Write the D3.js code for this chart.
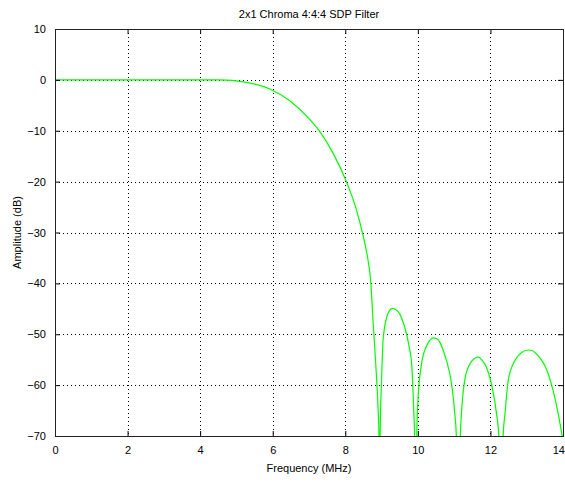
<!DOCTYPE html>
<html>
<head>
<meta charset="utf-8">
<script src="https://cdn.jsdelivr.net/npm/d3@7"></script>
<style>
  body { margin: 0; background: #fff; }
  text { font-family: "Liberation Sans", Arial, sans-serif; fill: #000; }
</style>
</head>
<body>
<div id="chart"></div>
<script>
// Frequency response (MHz, dB); values below -70 are nulls
const freqs = [0, 1, 2, 3, 4, 4.5, 4.73, 5.0, 5.28, 5.92, 6.47, 7.0, 7.25, 7.67, 8.03, 8.31, 8.47, 8.63, 8.70, 8.77, 8.84, 8.91, 8.93, 8.945,
  8.96, 9.0, 9.04, 9.14, 9.22, 9.30, 9.40, 9.50, 9.60, 9.69, 9.76, 9.83, 9.89, 9.91, 9.935,
  9.97, 10.01, 10.10, 10.24, 10.33, 10.42, 10.52, 10.61, 10.70, 10.79, 10.93, 11.02, 11.06, 11.11,
  11.17, 11.20, 11.29, 11.43, 11.55, 11.66, 11.78, 11.89, 12.03, 12.17, 12.23, 12.29,
  12.35, 12.40, 12.49, 12.67, 12.86, 13.04, 13.15, 13.27, 13.40, 13.50, 13.68, 13.87, 14.0];
const amps = [0, 0, 0, 0, 0, 0, -0.05, -0.2, -0.5, -1.8, -4.1, -7.6, -9.7, -14.5, -20, -25.6, -30, -35.6, -39.5, -48, -55.9, -65.7, -70, -100,
  -70, -59, -51.3, -46.7, -45.3, -44.9, -45.2, -46.0, -47.8, -50, -52.5, -55.9, -65.7, -70, -100,
  -70, -62, -55.9, -52.3, -51.2, -50.7, -50.9, -51.6, -53.2, -55.2, -59.8, -65.7, -70, -100,
  -70, -65.7, -59.1, -55.9, -54.8, -54.5, -55.2, -56.5, -59.8, -65.7, -70, -100,
  -70, -65.7, -59.1, -55.2, -53.6, -53.1, -53.2, -53.9, -55, -56.2, -59.8, -65.7, -71];
const xTicks = [0, 2, 4, 6, 8, 10, 12, 14];
const yTicks = [10, 0, -10, -20, -30, -40, -50, -60, -70];

const W = 565, H = 484;
const margin = { top: 29, right: 2, bottom: 48, left: 55 };
const width = W - margin.left - margin.right,
      height = H - margin.top - margin.bottom;

const svg = d3.select("#chart").append("svg")
    .attr("width", W)
    .attr("height", H);

const g = svg.append("g")
    .attr("transform", `translate(${margin.left},${margin.top})`);

const x = d3.scaleLinear().domain([0, 14]).range([0, width]);
const y = d3.scaleLinear().domain([-70, 10]).range([height, 0]);

// Dotted grid
g.append("g").selectAll("line")
    .data(xTicks.slice(1, -1))
    .enter().append("line")
    .attr("x1", d => Math.round(x(d)) + 0.5)
    .attr("x2", d => Math.round(x(d)) + 0.5)
    .attr("y1", 0).attr("y2", height)
    .attr("stroke", "#000")
    .attr("stroke-dasharray", "1,3");

g.append("g").selectAll("line")
    .data(yTicks.slice(1, -1))
    .enter().append("line")
    .attr("y1", d => Math.round(y(d)) + 0.5)
    .attr("y2", d => Math.round(y(d)) + 0.5)
    .attr("x1", 0).attr("x2", width)
    .attr("stroke", "#000")
    .attr("stroke-dasharray", "1,3");

// Clip for the curve
svg.append("clipPath").attr("id", "clip")
    .append("rect").attr("width", width).attr("height", height);

const pts = freqs.map((f, i) => [f, amps[i]]);
const line = d3.line()
    .x(d => x(d[0]))
    .y(d => y(d[1]))
    .curve(d3.curveMonotoneX);

g.append("path")
    .datum(pts)
    .attr("clip-path", "url(#clip)")
    .attr("fill", "none")
    .attr("stroke", "#00ff00")
    .attr("stroke-width", 1.2)
    .attr("d", line);

// Axes (ticks inward, box on all sides)
const axisStyle = sel => {
    sel.select(".domain").remove();
    sel.selectAll("line").attr("stroke", "#000");
    sel.selectAll("text").style("font-size", "11px").style("font-family", "'Liberation Sans', Arial, sans-serif");
};

const xAxis = g.append("g")
    .attr("transform", `translate(0,${height})`)
    .call(d3.axisBottom(x).tickValues(xTicks).tickSizeInner(-5).tickSizeOuter(0).tickPadding(10))
    .call(axisStyle);
// last label sits at the window edge
xAxis.selectAll("text").filter(d => d === 14).attr("text-anchor", "end").attr("dx", "1.5");

g.append("g")
    .call(d3.axisLeft(y).tickValues(yTicks).tickSizeInner(-5).tickSizeOuter(0).tickPadding(9))
    .call(axisStyle);

g.append("g")
    .call(d3.axisTop(x).tickValues(xTicks).tickSizeInner(-5).tickSizeOuter(0).tickFormat(""))
    .call(axisStyle);

g.append("g")
    .attr("transform", `translate(${width},0)`)
    .call(d3.axisRight(y).tickValues(yTicks).tickSizeInner(-5).tickSizeOuter(0).tickFormat(""))
    .call(axisStyle);

g.append("rect")
    .attr("x", 0.5).attr("y", 0.5)
    .attr("width", width).attr("height", height)
    .attr("fill", "none")
    .attr("stroke", "#222");

// Title and labels
svg.append("text")
    .attr("x", margin.left + width / 2)
    .attr("y", 18)
    .attr("text-anchor", "middle")
    .style("font-size", "11px")
    .text("2x1 Chroma 4:4:4 SDP Filter");

svg.append("text")
    .attr("x", margin.left + width / 2)
    .attr("y", 472)
    .attr("text-anchor", "middle")
    .style("font-size", "11px")
    .text("Frequency (MHz)");

svg.append("text")
    .attr("transform", "rotate(-90)")
    .attr("x", -(margin.top + height / 2))
    .attr("y", 21)
    .attr("text-anchor", "middle")
    .style("font-size", "11px")
    .text("Amplitude (dB)");
</script>
</body>
</html>
